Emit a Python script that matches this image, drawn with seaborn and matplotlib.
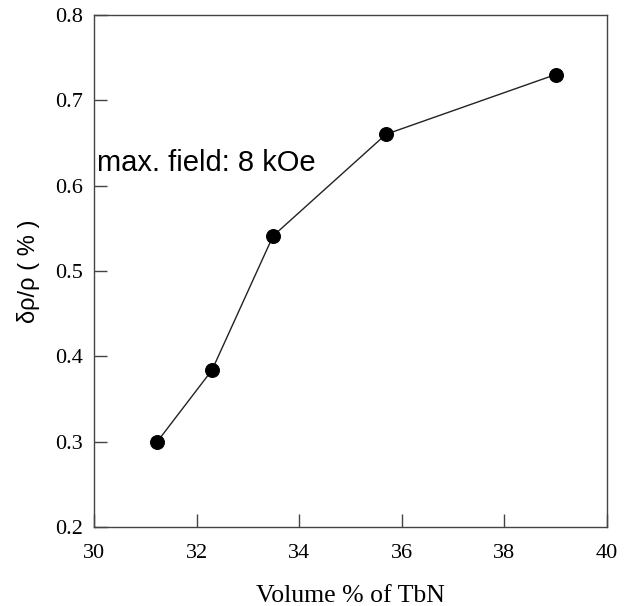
import matplotlib
matplotlib.use("Agg")
import matplotlib.pyplot as plt
import seaborn as sns
import pandas as pd

# Magnetoresistance vs TbN volume fraction
volume_pct = [31.23, 32.30, 33.49, 35.69, 39.0]
mr_pct = [0.300, 0.384, 0.541, 0.660, 0.730]
x_ticks = [30, 32, 34, 36, 38, 40]
y_ticks = [0.2, 0.3, 0.4, 0.5, 0.6, 0.7, 0.8]

df = pd.DataFrame({"vol": volume_pct, "mr": mr_pct})

sns.set_theme(style="white")
plt.rcParams["font.family"] = ["Liberation Serif", "DejaVu Serif"]
plt.rcParams["text.color"] = "black"

fig = plt.figure(figsize=(6.28, 6.06), dpi=100)
ax = fig.add_axes([0.1497, 0.1299, 0.8169, 0.8458])

sns.lineplot(data=df, x="vol", y="mr", ax=ax, color="#222222", linewidth=1.0,
             marker="o", markersize=10, markerfacecolor="black",
             markeredgecolor="black", sort=False)

ax.set_xlim(30, 40)
ax.set_ylim(0.2, 0.8)
ax.set_xticks(x_ticks)
ax.set_yticks(y_ticks)
ax.set_xticklabels([str(t) for t in x_ticks])
ax.set_yticklabels([f"{t:.1f}" for t in y_ticks])
ax.tick_params(direction="in", length=9.5, width=1.0, color="#444444",
               labelsize=16, labelcolor="black", top=False, right=False,
               bottom=True, left=True)
ax.tick_params(axis="x", pad=12)
ax.tick_params(axis="y", pad=8)

for sp in ax.spines.values():
    sp.set_color("#444444")
    sp.set_linewidth(1.0)

ax.set_xlabel("Volume % of TbN", fontsize=18.5, color="black", labelpad=16)
ax.set_ylabel("δρ/ρ ( % )", fontsize=17, color="black",
              family=["Liberation Sans", "DejaVu Sans"], labelpad=11)

ax.text(30.05, 0.627, "max. field: 8 kOe", fontsize=21, color="black",
        family=["Liberation Sans", "DejaVu Sans"], ha="left", va="center")

fig.savefig("out.png", dpi=100)
